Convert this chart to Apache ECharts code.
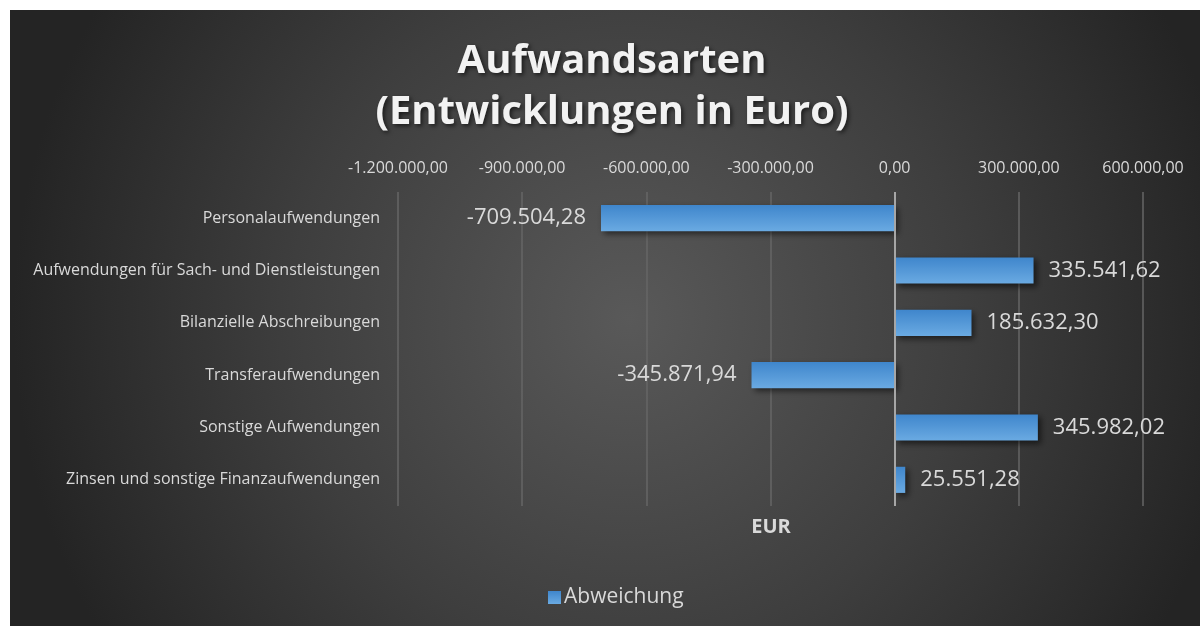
<!DOCTYPE html>
<html>
<head>
<meta charset="utf-8">
<title>Aufwandsarten</title>
<script src="https://cdn.jsdelivr.net/npm/echarts@6/dist/echarts.min.js"></script>
<style>
  html, body { margin: 0; padding: 0; background: #ffffff; }
  #chart { position: absolute; left: 10px; top: 10px; width: 1190px; height: 616px; }
</style>
</head>
<body>
<div id="chart"></div>
<script>
// Kategorien (von oben nach unten)
const categories = [
  'Personalaufwendungen',
  'Aufwendungen für Sach- und Dienstleistungen',
  'Bilanzielle Abschreibungen',
  'Transferaufwendungen',
  'Sonstige Aufwendungen',
  'Zinsen und sonstige Finanzaufwendungen'
]
// Abweichung in Euro
const abweichung = [-709504.28, 335541.62, 185632.30, -345871.94, 345982.02, 25551.28]
// Achse
const axisMin = -1200000
const axisMax = 600000
const axisStep = 300000

const FONT = '"Open Sans", sans-serif'
const TEXT = '#d9d9d9'

// deutsches Zahlenformat 1.234.567,89
const fmtDE = (v) => {
  const neg = v < 0
  const fixed = Math.abs(v).toFixed(2).split('.')
  const int = fixed[0].replace(/\B(?=(\d{3})+(?!\d))/g, '.')
  return (neg ? '-' : '') + int + ',' + fixed[1]
}

const chart = echarts.init(document.getElementById('chart'))

const option = {
  backgroundColor: {
    type: 'radial', x: 0.52, y: 0.5, r: 1.0,
    colorStops: [
      { offset: 0, color: '#595959' },
      { offset: 0.55, color: '#3e3e3e' },
      { offset: 1, color: '#242424' }
    ]
  },
  title: [
    {
      text: 'Aufwandsarten\n(Entwicklungen in Euro)',
      left: 597, top: 21, textAlign: 'center',
      textStyle: {
        fontFamily: FONT, fontSize: 40, fontWeight: 'bold', color: '#f2f2f2',
        lineHeight: 51,
        textShadowColor: 'rgba(0,0,0,0.6)', textShadowBlur: 4,
        textShadowOffsetX: 2, textShadowOffsetY: 2
      }
    },
    {
      text: 'EUR',
      left: 756, top: 502, textAlign: 'center',
      textStyle: { fontFamily: FONT, fontSize: 20, fontWeight: 'bold', color: TEXT }
    }
  ],
  legend: {
    data: ['Abweichung'],
    left: 533, top: 572,
    icon: 'rect', itemWidth: 13, itemHeight: 13, itemGap: 10,
    textStyle: { fontFamily: FONT, fontSize: 21, color: TEXT, padding: [0, 0, 0, -2] }
  },
  grid: { left: 388, right: 57, top: 182, height: 314, containLabel: false },
  xAxis: {
    type: 'value',
    position: 'top',
    min: axisMin, max: axisMax, interval: axisStep,
    axisLine: { show: false },
    axisTick: { show: false },
    axisLabel: {
      color: TEXT, fontFamily: FONT, fontSize: 16, margin: 16,
      formatter: (v) => fmtDE(v)
    },
    splitLine: { lineStyle: { color: '#666666', width: 1.5 } }
  },
  yAxis: {
    type: 'category',
    data: categories,
    inverse: true,
    axisLine: { show: false },
    axisTick: { show: false },
    axisLabel: { color: TEXT, fontFamily: FONT, fontSize: 16, margin: 18 }
  },
  series: [{
    name: 'Abweichung',
    type: 'bar',
    barWidth: '50%',
    data: abweichung.map(v => ({
      value: v,
      label: { position: v < 0 ? 'left' : 'right' }
    })),
    itemStyle: {
      color: {
        type: 'linear', x: 0, y: 0, x2: 0, y2: 1,
        colorStops: [
          { offset: 0, color: '#3f86cc' },
          { offset: 1, color: '#6aaae2' }
        ]
      },
      shadowColor: 'rgba(0,0,0,0.55)', shadowBlur: 6,
      shadowOffsetX: 3, shadowOffsetY: 3
    },
    label: {
      show: true, distance: 15,
      color: TEXT, fontFamily: FONT, fontSize: 22,
      formatter: (p) => fmtDE(p.value)
    },
    markLine: {
      silent: true, symbol: 'none',
      label: { show: false },
      lineStyle: { color: '#a6a6a6', width: 2, type: 'solid' },
      data: [{ xAxis: 0 }]
    }
  }]
}

chart.setOption(option)
</script>
</body>
</html>
